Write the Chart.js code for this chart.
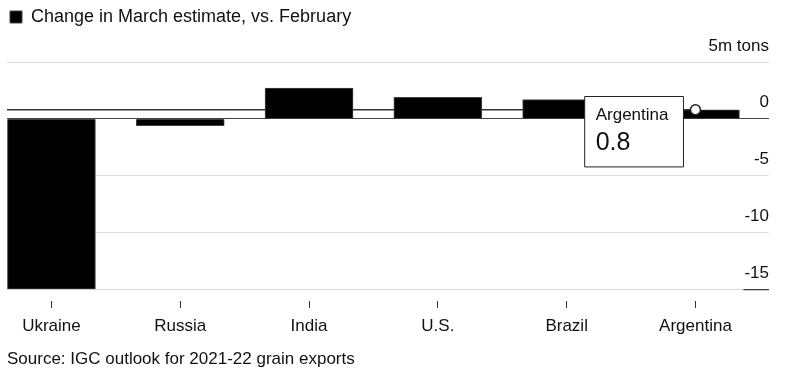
<!DOCTYPE html>
<html>
<head>
<meta charset="utf-8">
<script src="https://cdn.jsdelivr.net/npm/chart.js@4.4.1/dist/chart.umd.min.js"></script>
<style>
  html, body { margin: 0; padding: 0; background: #fff; }
  #wrap { width: 791px; height: 385px; }
</style>
</head>
<body>
<div id="wrap"><canvas id="canvas" width="791" height="385"></canvas></div>
<script>
// data
const categories = ['Ukraine', 'Russia', 'India', 'U.S.', 'Brazil', 'Argentina'];
const changes = [-15, -0.6, 2.7, 1.9, 1.7, 0.8];
const seriesLabel = 'Change in March estimate, vs. February';
const unitLabel = '5m tons';
const sourceText = 'Source: IGC outlook for 2021-22 grain exports';
const hoverIndex = 5;

const FONT = "'Liberation Sans', Arial, sans-serif";
const ink = '#111';

const positioners = (Chart.Tooltip || Chart.registry.getPlugin('tooltip')).positioners;
positioners.besideBar = function(items) {
  if (!items.length) return false;
  const el = items[0].element;
  return { x: el.x - 10, y: el.y + 22 };
};

// hover crosshair + marker, drawn like the interactive original
const hoverMarks = {
  id: 'hoverMarks',
  beforeDatasetsDraw(chart) {
    const bar = chart.getDatasetMeta(0).data[hoverIndex];
    const ctx = chart.ctx;
    ctx.save();
    ctx.strokeStyle = '#333';
    ctx.lineWidth = 1.5;
    ctx.beginPath();
    ctx.moveTo(chart.chartArea.left, bar.y);
    ctx.lineTo(bar.x, bar.y);
    ctx.stroke();
    ctx.restore();
  },
  afterDatasetsDraw(chart) {
    const bar = chart.getDatasetMeta(0).data[hoverIndex];
    const ctx = chart.ctx;
    ctx.save();
    ctx.fillStyle = '#fff';
    ctx.strokeStyle = '#222';
    ctx.lineWidth = 1.5;
    ctx.beginPath();
    ctx.arc(bar.x, bar.y, 5, 0, Math.PI * 2);
    ctx.fill();
    ctx.stroke();
    // dark underline below the bottom tick label
    const y = chart.scales.y;
    const yy = y.getPixelForValue(y.min);
    ctx.font = '17px ' + FONT;
    const w = ctx.measureText(String(y.min)).width;
    ctx.strokeStyle = '#111';
    ctx.lineWidth = 1;
    ctx.beginPath();
    ctx.moveTo(chart.chartArea.right - w - 1, yy + 0.5);
    ctx.lineTo(chart.chartArea.right, yy + 0.5);
    ctx.stroke();
    ctx.restore();
  }
};

const ctx = document.getElementById('canvas').getContext('2d');
const chart = new Chart(ctx, {
  type: 'bar',
  data: {
    datasets: [{
      label: seriesLabel,
      data: changes.map((v, i) => ({ x: i, y: v })),
      backgroundColor: '#000',
      borderColor: '#444',
      borderWidth: 1,
      barThickness: 88
    }]
  },
  options: {
    responsive: false,
    animation: false,
    events: [],
    layout: { padding: { left: 7, right: 22, top: 5, bottom: 8 } },
    scales: {
      x: {
        type: 'linear',
        offset: false,
        min: -0.345,
        max: 5.571,
        afterBuildTicks(scale) {
          scale.ticks = categories.map((c, i) => ({ value: i }));
        },
        border: { display: false },
        grid: {
          offset: false,
          drawOnChartArea: false,
          drawTicks: true,
          tickLength: 20,
          tickColor: '#333',
          tickWidth: 1,
          tickBorderDash: [0, 12, 7, 40]
        },
        ticks: {
          autoSkip: false,
          maxRotation: 0,
          padding: 7,
          color: ink,
          font: { family: FONT, size: 17 },
          callback: (v) => categories[v]
        }
      },
      y: {
        position: 'right',
        min: -15,
        max: 5,
        border: { display: false },
        grid: {
          drawTicks: false,
          color: (c) => (c.tick && c.tick.value === 0 ? '#444' : '#dcdcdc'),
          lineWidth: 1
        },
        ticks: {
          stepSize: 5,
          mirror: true,
          padding: 0,
          labelOffset: -16,
          color: ink,
          font: { family: FONT, size: 17 },
          callback: (v) => (v === 5 ? unitLabel : v)
        }
      }
    },
    plugins: {
      legend: {
        display: true,
        position: 'top',
        align: 'start',
        weight: 1000,
        labels: {
          boxWidth: 12,
          boxHeight: 12,
          padding: 3,
          color: ink,
          font: { family: FONT, size: 18 }
        }
      },
      subtitle: {
        display: true,
        text: '',
        position: 'top',
        weight: 500,
        font: { size: 10 },
        padding: { top: 0, bottom: 14 }
      },
      title: {
        display: true,
        text: sourceText,
        position: 'bottom',
        align: 'start',
        color: ink,
        font: { family: FONT, size: 17, weight: 'normal' },
        padding: { top: 6, bottom: 7 }
      },
      tooltip: {
        enabled: true,
        position: 'besideBar',
        xAlign: 'right',
        yAlign: 'center',
        backgroundColor: '#fff',
        borderColor: '#222',
        borderWidth: 1,
        cornerRadius: 0,
        caretSize: 0,
        caretPadding: 2,
        displayColors: false,
        titleColor: ink,
        titleFont: { family: FONT, size: 17, weight: 'normal' },
        titleMarginBottom: 2,
        bodyColor: ink,
        bodyFont: { family: FONT, size: 25 },
        padding: { top: 9, bottom: 9, left: 11, right: 15 },
        callbacks: {
          title: (items) => categories[items[0].dataIndex],
          label: (item) => String(changes[item.dataIndex])
        }
      }
    }
  },
  plugins: [hoverMarks]
});

chart.tooltip.setActiveElements([{ datasetIndex: 0, index: hoverIndex }], { x: 0, y: 0 });
chart.update();
</script>
</body>
</html>
